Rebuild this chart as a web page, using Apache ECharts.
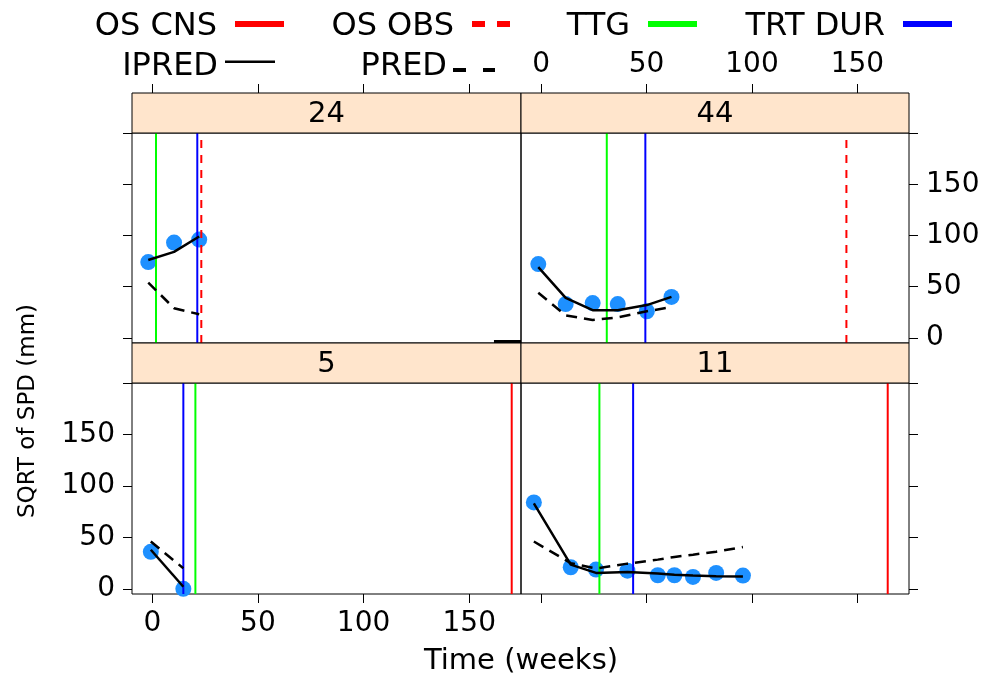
<!DOCTYPE html>
<html>
<head>
<meta charset="utf-8">
<title>SQRT of SPD over time</title>
<script src="https://cdn.jsdelivr.net/npm/echarts@6/dist/echarts.min.js"></script>
<style>
  html, body { margin: 0; padding: 0; background: #fff; }
  #chart { width: 984px; height: 681px; }
</style>
</head>
<body>
<div id="chart"></div>
<script>
// panels in lattice order: top-left, top-right, bottom-left, bottom-right
var panelIds = ['24', '44', '5', '11'];

// observed sqrt(SPD) and model predictions, time in weeks
var time24 = [-1.9, 10.3, 22.2];
var obs24 = [74, 93, 96];
var ipred24 = [76, 84, 99];
var pred24 = [54, 29, 23];

var time44 = [-1.4, 11.6, 24.4, 36.3, 50.1, 61.8];
var obs44 = [72, 33, 34, 33, 26, 40];
var ipred44 = [69, 39, 27, 27, 32, 40];
var pred44 = [44, 22, 17.5, 20, 26, 30];

var time5 = [-0.7, 14.7];
var obs5 = [36, 0];
var ipred5 = [38, 2];
var pred5 = [46, 20];

var time11 = [-3.5, 14, 26, 40.9, 55.3, 63.2, 72, 83, 95.7];
var obs11 = [84, 21, 18.7, 17.7, 13.2, 13.2, 11.6, 15.5, 12.9];
var ipred11 = [83, 23.5, 15.5, 16.4, 14.8, 13.8, 12.9, 12.2, 11.9];
var pred11 = [46, 25, 19.7, 24.5, 28.4, 31, 33.2, 36.1, 40.6];

// event times per panel (weeks), null = not shown
var osCnsTime = [null, null, 170.1, 164.4];
var osObsTime = [23.2, 144.8, null, null];
var ttgTime = [1.75, 31.1, 20.4, 27.6];
var trtDurTime = [21.3, 49.4, 14.7, 43.6];

// short black stub at the bottom right of panel 24
var stubX = [161.7, 174.5];
var stubY = [-4, -4];

var xTicks = [0, 50, 100, 150];
var yTicks = [0, 50, 100, 150, 200];
var yLabels = [0, 50, 100, 150];
var xLim = [-9.6, 174.5];
var yLim = [-5, 200];

var times = [time24, time44, time5, time11];
var obs = [obs24, obs44, obs5, obs11];
var ipred = [ipred24, ipred44, ipred5, ipred11];
var pred = [pred24, pred44, pred5, pred11];

var FONT = 'DejaVu Sans';
var cellLeft = [132, 521, 132, 521];
var cellWidth = [389, 388, 389, 388];
var cellTop = [133, 133, 383, 383];
var cellHeight = [210, 210, 211, 211];
var stripH = 40;

function zip(a, b) {
  var out = [];
  for (var i = 0; i < a.length; i++) out.push([a[i], b[i]]);
  return out;
}

var grids = [], xAxes = [], yAxes = [], series = [], graphics = [];

for (var i = 0; i < 4; i++) {
  var topRow = i < 2;
  var leftCol = i % 2 === 0;
  grids.push({
    left: cellLeft[i], top: cellTop[i], width: cellWidth[i], height: cellHeight[i],
    show: true, borderColor: '#000', borderWidth: 1
  });
  xAxes.push({
    gridIndex: i, type: 'value', min: xLim[0], max: xLim[1],
    position: topRow ? 'top' : 'bottom',
    offset: topRow ? stripH : 0,
    axisLine: { show: false, onZero: false },
    axisTick: { show: true, length: 9, customValues: xTicks, lineStyle: { color: '#000', width: 1 } },
    axisLabel: {
      show: i === 1 || i === 2, customValues: xTicks,
      margin: topRow ? 14 : 16, fontSize: 28, fontFamily: FONT, color: '#000'
    },
    splitLine: { show: false }
  });
  yAxes.push({
    gridIndex: i, type: 'value', min: yLim[0], max: yLim[1],
    position: leftCol ? 'left' : 'right',
    axisLine: { show: false, onZero: false },
    axisTick: { show: true, length: 9, customValues: yTicks, lineStyle: { color: '#000', width: 1 } },
    axisLabel: {
      show: i === 1 || i === 2, customValues: yLabels,
      margin: leftCol ? 17 : 17, fontSize: 28, fontFamily: FONT, color: '#000'
    },
    splitLine: { show: false }
  });

  // strip with panel id
  graphics.push({
    type: 'rect', z: 10,
    shape: { x: cellLeft[i], y: cellTop[i] - stripH, width: cellWidth[i], height: stripH },
    style: { fill: '#FFE5CC', stroke: '#000', lineWidth: 1 }
  });
  graphics.push({
    type: 'text', z: 11,
    x: cellLeft[i] + cellWidth[i] / 2, y: cellTop[i] - stripH / 2 + 1,
    style: { text: panelIds[i], fontSize: 29, fontFamily: FONT, fill: '#000', align: 'center', verticalAlign: 'middle' }
  });

  series.push({
    type: 'scatter', name: 'DV', xAxisIndex: i, yAxisIndex: i,
    data: zip(times[i], obs[i]), symbolSize: 16,
    itemStyle: { color: '#1E90FF', opacity: 1 }, z: 2
  });

  function vline(name, t, color, type) {
    if (t === null) return;
    series.push({
      type: 'line', name: name, xAxisIndex: i, yAxisIndex: i,
      data: [[t, yLim[0]], [t, yLim[1]]], symbol: 'none', color: color,
      itemStyle: { color: color },
      lineStyle: { color: color, width: 2, type: type }, z: 3
    });
  }
  vline('OS CNS', osCnsTime[i], '#FF0000', 'solid');
  vline('OS OBS', osObsTime[i], '#FF0000', [8, 7]);
  vline('TTG', ttgTime[i], '#00FF00', 'solid');
  vline('TRT DUR', trtDurTime[i], '#0000FF', 'solid');

  series.push({
    type: 'line', name: 'IPRED', xAxisIndex: i, yAxisIndex: i,
    data: zip(times[i], ipred[i]), symbol: 'none', color: '#000',
    itemStyle: { color: '#000' },
    lineStyle: { color: '#000', width: 2.5 }, z: 4
  });
  series.push({
    type: 'line', name: 'PRED', xAxisIndex: i, yAxisIndex: i,
    data: zip(times[i], pred[i]), symbol: 'none', color: '#000',
    itemStyle: { color: '#000' },
    lineStyle: { color: '#000', width: 2.5, type: [11, 7] }, z: 4
  });
}

series.push({
  type: 'line', xAxisIndex: 0, yAxisIndex: 0,
  data: zip(stubX, stubY), symbol: 'none',
  lineStyle: { color: '#000', width: 4 }, z: 5
});

graphics.push({
  type: 'text', x: 521, y: 661,
  style: { text: 'Time (weeks)', fontSize: 29, fontFamily: FONT, fill: '#000', align: 'center', verticalAlign: 'middle' }
});
graphics.push({
  type: 'text', x: 28, y: 411, rotation: Math.PI / 2,
  style: { text: 'SQRT of SPD (mm)', fontSize: 23, fontFamily: FONT, fill: '#000', align: 'center', verticalAlign: 'middle' }
});

// icons carry invisible corner points so the stroke sits where the reference draws it
function legendItem(name, icon, iconRight, top, w, h, gap) {
  return {
    data: [{ name: name, icon: icon }],
    right: 984 - iconRight, top: top,
    orient: 'horizontal', align: 'right', padding: 0,
    itemWidth: w, itemHeight: h, selectedMode: false,
    itemStyle: { borderWidth: 0 },
    textStyle: { fontSize: 32, fontFamily: FONT, color: '#000', lineHeight: 32, padding: [0, gap, 0, 0] }
  };
}

var legends = [
  legendItem('OS CNS', 'path://M0,0H49V6H0Z M0,12L0.01,12', 284, 11, 49, 12, 13),
  legendItem('OS OBS', 'path://M0,0H13V6H0Z M25,0H38V6H25Z M0,12L0.01,12', 510, 11, 38, 12, 13),
  legendItem('TTG', 'path://M0,0H49V6H0Z M0,12L0.01,12', 697, 11, 49, 12, 13),
  legendItem('TRT DUR', 'path://M0,0H49V6H0Z M0,12L0.01,12', 952, 11, 49, 12, 13),
  legendItem('IPRED', 'path://M0,0L0.01,0 M0,0.5H50V3H0Z M0,14L0.01,14', 275, 51, 50, 14, 2),
  legendItem('PRED', 'path://M0,0L0.01,0 M0,8H13V12H0Z M30,8H42V12H30Z M0,14L0.01,14', 495, 51, 42, 14, 1)
];

var chart = echarts.init(document.getElementById('chart'), null, { renderer: 'canvas' });
chart.setOption({
  backgroundColor: '#fff',
  animation: false,
  legend: legends,
  grid: grids,
  xAxis: xAxes,
  yAxis: yAxes,
  series: series,
  graphic: graphics
});
</script>
</body>
</html>
